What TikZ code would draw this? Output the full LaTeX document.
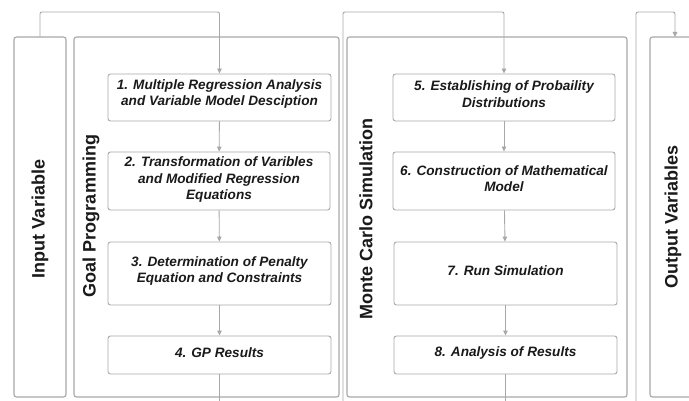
\documentclass[tikz,border=0pt]{standalone}
\usepackage{fontspec}
\setmainfont{Liberation Sans}
\usetikzlibrary{arrows.meta}
\definecolor{edge}{HTML}{A8A8A8}
\definecolor{ink}{HTML}{1A1A1A}
\tikzset{
  outer/.style={draw=edge, line width=1.1pt, rounded corners=2.5pt},
  stepbox/.style={draw=edge, line width=0.9pt, rounded corners=2.5pt, inner sep=0pt},
  steptext/.style={align=center, text=ink, inner sep=0pt,
    font=\fontsize{13.6}{16.5}\selectfont\bfseries\itshape},
  lane/.style={rotate=90, text=ink, font=\fontsize{18}{20}\selectfont\bfseries},
  conn/.style={draw=edge, line width=0.9pt, -{Triangle[width=4.5pt,length=5pt]}},
  plain/.style={draw=edge, line width=0.9pt},
}
\begin{document}
\begin{tikzpicture}[x=1pt,y=-1pt]
\useasboundingbox (0,0) rectangle (689,401);
\clip (0,0) rectangle (689,401);
\fill[white] (0,0) rectangle (689,401);
% outer lanes
\node[outer, minimum width=52pt, minimum height=360pt] (inlane) at (40,217) {};
\node[outer, minimum width=265pt, minimum height=360pt] (gplane) at (206.5,217) {};
\node[outer, minimum width=280pt, minimum height=360pt] (mclane) at (487,217) {};
\node[outer, minimum width=80pt, minimum height=360pt] (outlane) at (690,217) {};
% lane labels
\node[lane] (inlab) at (40,219) {Input Variable};
\node[lane] (gplab) at (91,216) {Goal Programming};
\node[lane] (mclab) at (366,219) {Monte Carlo Simulation};
\node[lane] (outlab) at (673,217) {Output Variables};
% step boxes
\node[stepbox, minimum width=223pt, minimum height=47pt] (s1) at (219.5,97.5) {};
\node[stepbox, minimum width=222pt, minimum height=58pt] (s2) at (219,181) {};
\node[stepbox, minimum width=223pt, minimum height=63pt] (s3) at (219.5,273.5) {};
\node[stepbox, minimum width=223pt, minimum height=38pt] (s4) at (219.5,355) {};
\node[stepbox, minimum width=222pt, minimum height=47pt] (s5) at (504,97.5) {};
\node[stepbox, minimum width=222pt, minimum height=58pt] (s6) at (504,181) {};
\node[stepbox, minimum width=223pt, minimum height=63pt] (s7) at (505.5,273.5) {};
\node[stepbox, minimum width=223pt, minimum height=38pt] (s8) at (505.5,355) {};
% step texts
\node[steptext] (t1) at ([yshift=3.5pt]s1.center) {1. Multiple Regression Analysis\\and Variable Model Desciption};
\node[steptext] (t2) at ([yshift=1.5pt]s2.center) {2. Transformation of Varibles\\and Modified Regression\\Equations};
\node[steptext] (t3) at ([yshift=2.5pt]s3.center) {3. Determination of Penalty\\Equation and Constraints};
\node[steptext] (t4) at ([yshift=2pt]s4.center) {4. GP Results};
\node[steptext] (t5) at ([yshift=3.5pt]s5.center) {5. Establishing of Probaility\\Distributions};
\node[steptext] (t6) at ([yshift=2.5pt]s6.center) {6. Construction of Mathematical\\Model};
\node[steptext] (t7) at ([yshift=2.5pt]s7.center) {7. Run Simulation};
\node[steptext] (t8) at ([yshift=2pt]s8.center) {8. Analysis of Results};
% connectors inside lanes
\draw[conn] (s1) -- (s2);
\draw[conn] (s2) -- (s3);
\draw[conn] (s3) -- (s4);
\draw[conn] (s5) -- (s6);
\draw[conn] (s6) -- (s7);
\draw[conn] (s7) -- (s8);
% feed lines
\coordinate (inTop) at (40,37);
\draw[conn, rounded corners=2pt] (inTop) -- (40,12) -| (s1.north);
\coordinate (gpOut) at (219.5,402);
\draw[plain] (s4.south) -- (gpOut);
\coordinate (mcIn) at (343,402);
\draw[conn, rounded corners=2pt] (mcIn) -- (343,12) -| (s5.north);
\coordinate (mcOut) at (505.5,402);
\draw[plain] (s8.south) -- (mcOut);
\coordinate (outIn) at (636,402);
\coordinate (outTop) at (675,37);
\draw[conn, rounded corners=2pt] (outIn) -- (636,12) -| (outTop);
\end{tikzpicture}
\end{document}
